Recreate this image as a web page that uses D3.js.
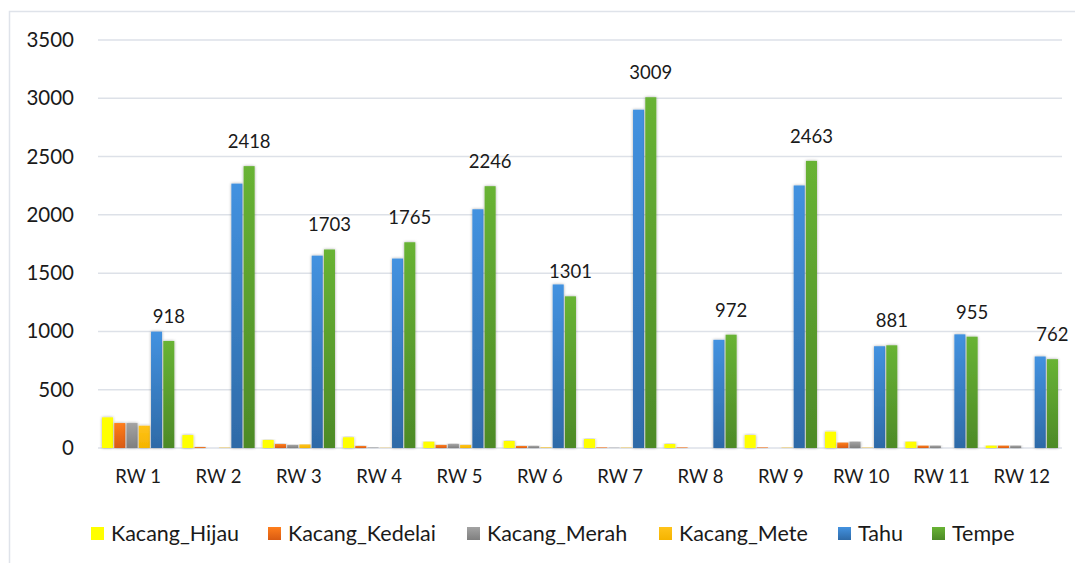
<!DOCTYPE html>
<html>
<head>
<meta charset="utf-8">
<script src="https://cdn.jsdelivr.net/npm/d3@7"></script>
<style>
  body { margin: 0; background: #fff; }
  svg text { font-family: Lato, "Open Sans", sans-serif; fill: #1a1a1a; }
</style>
</head>
<body>
<svg id="chart" width="1075" height="563"></svg>
<script>
// data
var categories = ["RW 1", "RW 2", "RW 3", "RW 4", "RW 5", "RW 6", "RW 7", "RW 8", "RW 9", "RW 10", "RW 11", "RW 12"];
var seriesNames = ["Kacang_Hijau", "Kacang_Kedelai", "Kacang_Merah", "Kacang_Mete", "Tahu", "Tempe"];
var kacangHijau   = [263, 111, 69, 92, 54, 60, 77, 34, 111, 140, 54, 20];
var kacangKedelai = [214, 8, 34, 17, 26, 17, 5, 5, 5, 46, 20, 20];
var kacangMerah   = [214, 0, 26, 5, 34, 17, 3, 0, 0, 54, 20, 20];
var kacangMete    = [191, 3, 30, 2, 26, 5, 3, 0, 3, 3, 0, 0];
var tahu          = [998, 2268, 1650, 1625, 2048, 1403, 2902, 928, 2252, 873, 975, 785];
var tempe         = [918, 2418, 1703, 1765, 2246, 1301, 3009, 972, 2463, 881, 955, 762];
var yTicks = [0, 500, 1000, 1500, 2000, 2500, 3000, 3500];

var allSeries = [kacangHijau, kacangKedelai, kacangMerah, kacangMete, tahu, tempe];
var colors = [
  ["#ffff00", "#ffff00"],
  ["#ff7e1c", "#d95b12"],
  ["#a3a3a3", "#7f7f7f"],
  ["#ffc31a", "#f5b400"],
  ["#4392e0", "#2e6aa7"],
  ["#68b334", "#4d8a27"]
];
var legendX = [91, 268, 467, 659, 838, 932];

var svg = d3.select("#chart");
var defs = svg.append("defs");
colors.forEach(function(c, i) {
  var g = defs.append("linearGradient").attr("id", "grad" + i)
    .attr("x1", 0).attr("y1", 0).attr("x2", 0).attr("y2", 1);
  g.append("stop").attr("offset", "0%").attr("stop-color", c[0]);
  g.append("stop").attr("offset", "100%").attr("stop-color", c[1]);
});
var shadow = defs.append("filter").attr("id", "shadow")
  .attr("x", "-30%").attr("y", "-10%").attr("width", "160%").attr("height", "120%");
shadow.append("feDropShadow").attr("dx", 0).attr("dy", 0).attr("stdDeviation", 1.6)
  .attr("flood-color", "#000").attr("flood-opacity", 0.35);

// outer chart border
svg.append("rect").attr("x", 9.5).attr("y", 11.5).attr("width", 1080).attr("height", 570)
  .attr("fill", "none").attr("stroke", "#dfe3ea").attr("stroke-width", 1.5);

var x = d3.scaleBand().domain(categories).range([98, 1062]).paddingInner(0.1).paddingOuter(0.05);
var xs = d3.scaleBand().domain(d3.range(6)).range([0, x.bandwidth()]).paddingInner(0.1);
var y = d3.scaleLinear().domain([0, 3500]).range([448, 40]);

// gridlines
svg.append("g").selectAll("line").data(yTicks).join("line")
  .attr("x1", 98).attr("x2", 1062)
  .attr("y1", function(d) { return y(d); }).attr("y2", function(d) { return y(d); })
  .attr("stroke", "#dde1e8").attr("stroke-width", 1.5);

// y tick labels
svg.append("g").selectAll("text").data(yTicks).join("text")
  .attr("x", 74).attr("y", function(d) { return y(d) + 7; })
  .attr("text-anchor", "end").attr("font-size", 20.5)
  .text(function(d) { return d; });

// bars
var groups = svg.append("g").selectAll("g").data(categories).join("g")
  .attr("transform", function(d) { return "translate(" + x(d) + ",0)"; });
groups.each(function(cat, ci) {
  d3.select(this).selectAll("rect").data(allSeries.map(function(s, si) { return {si: si, v: s[ci]}; }))
    .join("rect")
    .filter(function(d) { return d.v > 0; })
    .attr("x", function(d) { return xs(d.si); })
    .attr("width", xs.bandwidth())
    .attr("y", function(d) { return y(d.v); })
    .attr("height", function(d) { return y(0) - y(d.v); })
    .attr("fill", function(d) { return "url(#grad" + d.si + ")"; })
    .attr("filter", "url(#shadow)");
});

// data labels on Tempe
svg.append("g").selectAll("text").data(categories).join("text")
  .attr("x", function(d) { return x(d) + xs(5) + xs.bandwidth() / 2; })
  .attr("y", function(d, i) { return y(tempe[i]) - 18; })
  .attr("text-anchor", "middle").attr("font-size", 18.5)
  .text(function(d, i) { return tempe[i]; });

// x labels
svg.append("g").selectAll("text").data(categories).join("text")
  .attr("x", function(d) { return x(d) + x.bandwidth() / 2; })
  .attr("y", 483)
  .attr("text-anchor", "middle").attr("font-size", 18.5)
  .text(function(d) { return d; });

// legend
var leg = svg.append("g").selectAll("g").data(seriesNames).join("g")
  .attr("transform", function(d, i) { return "translate(" + legendX[i] + ",527)"; });
leg.append("rect").attr("width", 13).attr("height", 13)
  .attr("fill", function(d, i) { return "url(#grad" + i + ")"; });
leg.append("text").attr("x", 20).attr("y", 14).attr("font-size", 21.5)
  .text(function(d) { return d; });
</script>
</body>
</html>
